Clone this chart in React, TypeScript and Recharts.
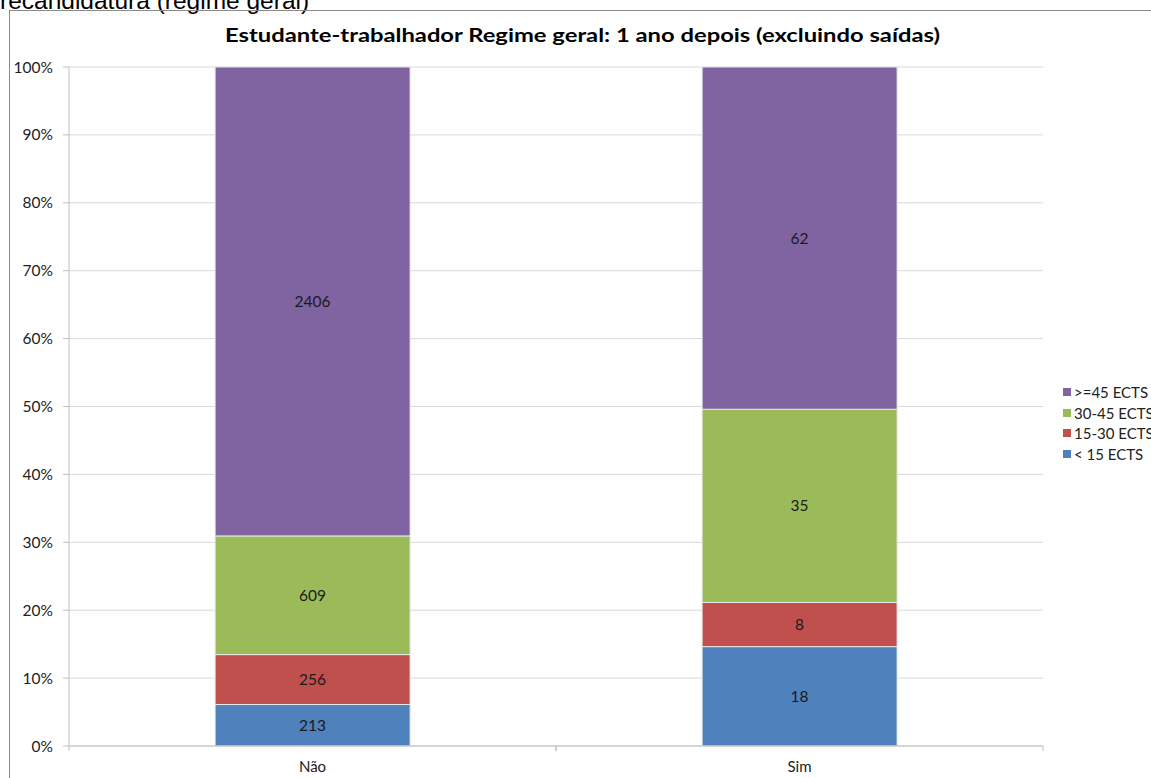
import React from "react";
import { BarChart, Bar, XAxis, YAxis, CartesianGrid, Legend, LabelList } from "recharts";

const categories = ["Não", "Sim"];
const lt15 = [213, 18];
const e15to30 = [256, 8];
const e30to45 = [609, 35];
const ge45 = [2406, 62];
const yTicks = [0, 0.1, 0.2, 0.3, 0.4, 0.5, 0.6, 0.7, 0.8, 0.9, 1];

const series = [
  { key: "lt15", name: "< 15 ECTS", color: "#4F81BD" },
  { key: "e15to30", name: "15-30 ECTS", color: "#C0504D" },
  { key: "e30to45", name: "30-45 ECTS", color: "#9BBB59" },
  { key: "ge45", name: ">=45 ECTS", color: "#8064A2" },
];

const data = categories.map((c, i) => ({
  name: c,
  lt15: lt15[i],
  e15to30: e15to30[i],
  e30to45: e30to45[i],
  ge45: ge45[i],
}));

const FONT = "Lato, 'Open Sans', sans-serif";
const W = 1151;
const H = 778;
const M = { top: 67, right: 8, left: 19, bottom: 0 };
const LEGEND_W = 100;
const plotW = W - M.left - 50 - M.right - LEGEND_W;
const band = plotW / categories.length;

function CatTick(props: any) {
  const { x, y, payload } = props;
  return (
    <g>
      <line x1={x - band / 2} x2={x - band / 2} y1={y} y2={y + 5} stroke="#BFBFBF" />
      <line x1={x + band / 2} x2={x + band / 2} y1={y} y2={y + 5} stroke="#BFBFBF" />
      <text x={x} y={y + 26} textAnchor="middle" fontFamily={FONT} fontSize={15} fill="#222">
        {payload.value}
      </text>
    </g>
  );
}

function LegendBox(props: any) {
  const order = series.map((s) => s.key);
  const items = [...(props.payload || [])]
    .sort((a: any, b: any) => order.indexOf(a.dataKey) - order.indexOf(b.dataKey))
    .reverse();
  return (
    <div style={{ fontFamily: FONT, fontSize: 15, color: "#222" }}>
      {items.map((p: any) => (
        <div key={p.value} style={{ display: "flex", alignItems: "center", height: 20.5, whiteSpace: "nowrap" }}>
          <span style={{ width: 8, height: 8, background: p.color, display: "inline-block", marginRight: 3 }} />
          <span>{p.value}</span>
        </div>
      ))}
    </div>
  );
}

export default function App() {
  return (
    <div style={{ position: "absolute", left: 0, top: 0, width: W, height: H, overflow: "hidden", background: "#fff" }}>
      <div style={{ position: "absolute", left: 0, top: -11, fontFamily: "'Liberation Sans', Arial, sans-serif", fontSize: 24.5, lineHeight: "24.5px", color: "#000", whiteSpace: "nowrap" }}>
        recandidatura (regime geral)
      </div>
      <div style={{ position: "absolute", left: 9, top: 10, width: 1200, height: 800, border: "1px solid #8a8a8a" }} />
      <svg style={{ position: "absolute", left: 0, top: 0 }} width={W} height={60}>
        <text x={225} y={42} textLength={715} lengthAdjust="spacingAndGlyphs" fontFamily={FONT} fontWeight={700} fontSize={19.5} fill="#000">
          Estudante-trabalhador Regime geral: 1 ano depois (excluindo saídas)
        </text>
      </svg>
      <div style={{ position: "absolute", left: 0, top: 0 }}>
        <BarChart width={W} height={H} data={data} stackOffset="expand" barCategoryGap="30%" margin={M}>
          <CartesianGrid horizontal={true} vertical={false} stroke="#D9D9D9" />
          <XAxis dataKey="name" tickLine={false} tickSize={0} tickMargin={0} axisLine={{ stroke: "#BFBFBF" }} height={32} tick={<CatTick />} interval={0} />
          <YAxis width={50} ticks={yTicks} domain={[0, 1]} tickFormatter={(v: number) => `${Math.round(v * 100)}%`} tickLine={{ stroke: "#BFBFBF" }} tickSize={6} tickMargin={10} axisLine={{ stroke: "#BFBFBF" }} tick={{ fontFamily: FONT, fontSize: 15.5, fill: "#222" }} interval={0} />
          {series.map((s) => (
            <Bar key={s.key} dataKey={s.key} name={s.name} stackId="a" fill={s.color} stroke="#E8E8E8" strokeWidth={1} isAnimationActive={false}>
              <LabelList dataKey={s.key} position="center" style={{ fontFamily: FONT, fontSize: 15.5, fill: "#1a1a1a" }} />
            </Bar>
          ))}
          <Legend layout="vertical" verticalAlign="middle" align="right" content={<LegendBox />} wrapperStyle={{ left: 1063, top: 382, width: LEGEND_W }} />
        </BarChart>
      </div>
    </div>
  );
}
